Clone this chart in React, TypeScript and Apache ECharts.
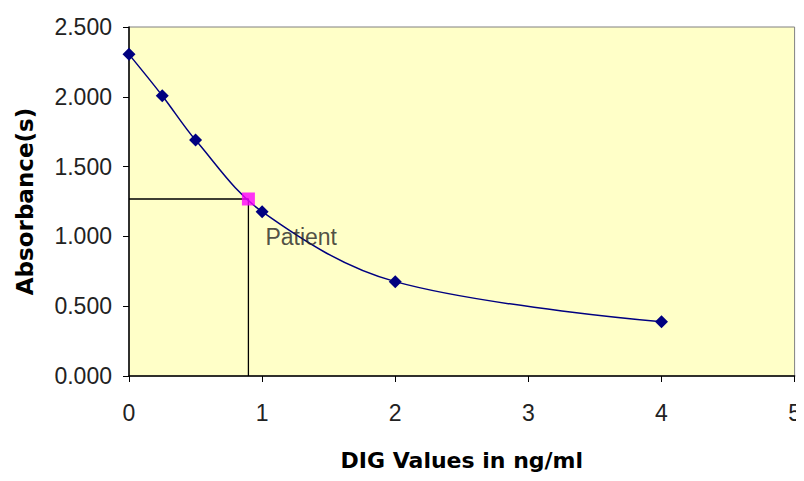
import React, { useEffect, useRef } from "react";
import * as echarts from "echarts";

const doseValues = [0, 0.25, 0.5, 1, 2, 4];
const absorbanceValues = [2.304, 2.008, 1.69, 1.177, 0.676, 0.389];
const patientDose = 0.897;
const patientAbsorbance = 1.268;
const patientLabel = "Patient";
const xTitle = "DIG Values in ng/ml";
const yTitle = "Absorbance(s)";

export default function App() {
  const ref = useRef<HTMLDivElement>(null);
  useEffect(() => {
    if (!ref.current) return;
    const chart = echarts.init(ref.current, null, { renderer: "svg" });
    const curve = doseValues.map((d, i) => [d, absorbanceValues[i]]);
    chart.setOption({
      animation: false,
      backgroundColor: "#ffffff",
      grid: {
        left: 129,
        right: 8,
        top: 27,
        bottom: 105,
        show: true,
        backgroundColor: "#FFFFC8",
        borderColor: "#808080",
        borderWidth: 1,
      },
      xAxis: {
        type: "value",
        min: 0,
        max: 5,
        interval: 1,
        name: xTitle,
        nameLocation: "middle",
        nameGap: 73,
        nameTextStyle: {
          fontFamily: "DejaVu Sans",
          fontWeight: "bold",
          fontSize: 22,
          color: "#000",
        },
        axisLine: { show: true, onZero: false, lineStyle: { color: "#000", width: 1.5 } },
        axisTick: { show: true, length: 6, lineStyle: { color: "#000" } },
        axisLabel: {
          margin: 25,
          fontFamily: "Liberation Sans",
          fontSize: 23,
          color: "#222",
        },
        splitLine: { show: false },
      },
      yAxis: {
        type: "value",
        min: 0,
        max: 2.5,
        interval: 0.5,
        name: yTitle,
        nameLocation: "middle",
        nameGap: 93,
        nameTextStyle: {
          fontFamily: "DejaVu Sans",
          fontWeight: "bold",
          fontSize: 23,
          color: "#000",
        },
        axisLine: { show: true, onZero: false, lineStyle: { color: "#000", width: 1.5 } },
        axisTick: { show: true, length: 6, lineStyle: { color: "#000" } },
        axisLabel: {
          margin: 17,
          fontFamily: "Liberation Sans",
          fontSize: 23,
          color: "#222",
          formatter: (v: number) => v.toFixed(3),
        },
        splitLine: { show: false },
      },
      series: [
        {
          type: "line",
          data: [
            [0, patientAbsorbance],
            [patientDose, patientAbsorbance],
            [patientDose, 0],
          ],
          symbol: "none",
          lineStyle: { color: "#000", width: 1.3 },
          silent: true,
          z: 2,
        },
        {
          type: "line",
          data: curve,
          smooth: 0.35,
          symbol: "diamond",
          symbolSize: 13,
          lineStyle: { color: "#000080", width: 1.5 },
          itemStyle: { color: "#000080" },
          z: 3,
        },
        {
          type: "scatter",
          data: [[patientDose, patientAbsorbance]],
          symbol: "rect",
          symbolSize: 13,
          itemStyle: { color: "#FF00FF" },
          label: {
            show: true,
            formatter: patientLabel,
            position: [23.5, 45],
            align: "left",
            verticalAlign: "middle",
            fontFamily: "Liberation Sans",
            fontSize: 23,
            color: "#222",
          },
          z: 4,
        },
      ],
    });
    return () => chart.dispose();
  }, []);
  return <div ref={ref} style={{ width: 804, height: 481, margin: -8 }} />;
}
